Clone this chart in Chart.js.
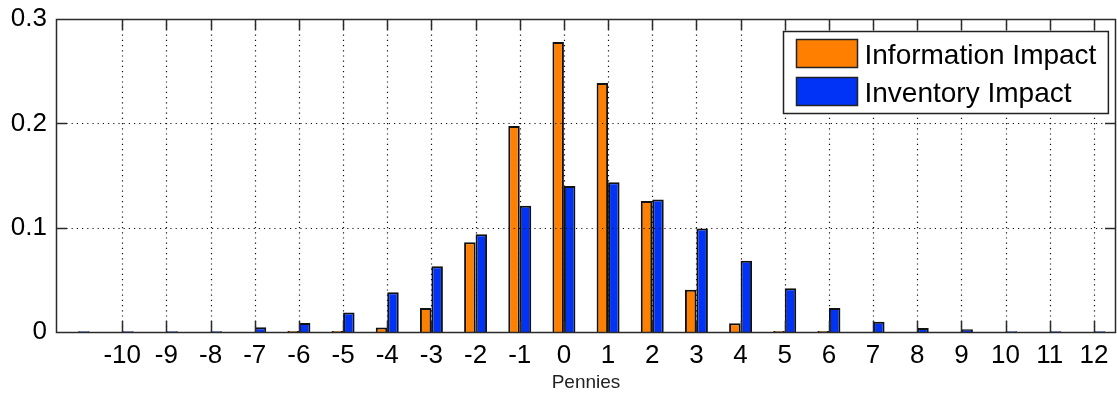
<!DOCTYPE html>
<html>
<head>
<meta charset="utf-8">
<script src="https://cdn.jsdelivr.net/npm/chart.js@4.4.0/dist/chart.umd.min.js"></script>
<style>
  html, body { margin: 0; padding: 0; background: #fff; }
  #wrap { width: 1117px; height: 394px; }
</style>
</head>
<body>
<div id="wrap"><canvas id="impactChart"></canvas></div>
<script>
// categories (pennies) and the ones that get a tick label
const pennies = ['-11', '-10', '-9', '-8', '-7', '-6', '-5', '-4', '-3', '-2', '-1', '0',
  '1', '2', '3', '4', '5', '6', '7', '8', '9', '10', '11', '12'];
const shownTicks = ['-10', '-9', '-8', '-7', '-6', '-5', '-4', '-3', '-2', '-1', '0',
  '1', '2', '3', '4', '5', '6', '7', '8', '9', '10', '11', '12'];

const informationImpact = [0, 0, 0, 0, 0, 0.001, 0.001, 0.0042, 0.023, 0.086, 0.1975, 0.278,
  0.2386, 0.1255, 0.0405, 0.0084, 0.001, 0.001, 0, 0, 0, 0, 0, 0];
const inventoryImpact = [0.0008, 0.0008, 0.0008, 0.0008, 0.0045, 0.0087, 0.0186, 0.038, 0.063, 0.0937, 0.121, 0.14,
  0.1435, 0.127, 0.0992, 0.0684, 0.042, 0.023, 0.0099, 0.0039, 0.0026, 0.0008, 0.0008, 0.0008];

const gridValues = [0.1, 0.2];

const fontFamily = "'Liberation Sans', Arial, sans-serif";

// dotted grid on top of the bars, inward ticks and the full box
const axesFrame = {
  id: 'axesFrame',
  afterDatasetsDraw(chart) {
    const { ctx, chartArea: a, scales: { x, y } } = chart;
    const xs = [];
    pennies.forEach((p, i) => {
      if (shownTicks.includes(p)) xs.push(Math.round(x.getPixelForValue(i)) + 0.5);
    });
    const ys = gridValues.map(v => Math.round(y.getPixelForValue(v)) + 0.5);

    ctx.save();
    ctx.strokeStyle = '#111';
    ctx.lineWidth = 1.2;
    ctx.setLineDash([1.2, 4]);
    ctx.beginPath();
    xs.forEach(px => { ctx.moveTo(px, a.top); ctx.lineTo(px, a.bottom); });
    ys.forEach(py => { ctx.moveTo(a.left, py); ctx.lineTo(a.right, py); });
    ctx.stroke();

    ctx.setLineDash([]);
    ctx.lineWidth = 1.5;
    ctx.strokeStyle = '#2a2a2a';
    ctx.beginPath();
    xs.forEach(px => {
      ctx.moveTo(px, a.bottom); ctx.lineTo(px, a.bottom - 11);
      ctx.moveTo(px, a.top); ctx.lineTo(px, a.top + 11);
    });
    ys.forEach(py => {
      ctx.moveTo(a.left, py); ctx.lineTo(a.left + 11, py);
      ctx.moveTo(a.right, py); ctx.lineTo(a.right - 11, py);
    });
    ctx.stroke();
    ctx.strokeRect(Math.round(a.left) + 0.5, Math.round(a.top) + 0.5,
      Math.round(a.right - a.left) - 1, Math.round(a.bottom - a.top));
    ctx.restore();
  }
};

// legend box inside the top right corner
const boxLegend = {
  id: 'boxLegend',
  afterDraw(chart) {
    const { ctx, chartArea: a } = chart;
    const sets = chart.data.datasets;
    ctx.save();
    ctx.font = '28px ' + fontFamily;
    const textW = Math.max(...sets.map(d => ctx.measureText(d.label).width));
    const swW = 61, swH = 28, rowH = 38;
    const w = 13 + swW + 7 + textW + 12;
    const h = 8 + rowH * (sets.length - 1) + swH + 8;
    const left = Math.round(a.right - 8 - w) + 0.5;
    const top = Math.round(a.top + 12) + 0.5;

    ctx.fillStyle = '#fff';
    ctx.fillRect(left, top, w, h);
    ctx.strokeStyle = '#222';
    ctx.lineWidth = 1.5;
    ctx.strokeRect(left, top, w, h);

    sets.forEach((d, i) => {
      const sy = top + 8 + i * rowH;
      ctx.fillStyle = d.backgroundColor;
      ctx.fillRect(left + 13, sy, swW, swH);
      ctx.lineWidth = 1.5;
      ctx.strokeStyle = '#222';
      ctx.strokeRect(left + 13, sy, swW, swH);
      ctx.fillStyle = '#000';
      ctx.textBaseline = 'alphabetic';
      ctx.fillText(d.label, left + 13 + swW + 7, sy + swH / 2 + 10);
    });
    ctx.restore();
  }
};

new Chart(document.getElementById('impactChart'), {
  type: 'bar',
  data: {
    labels: pennies,
    datasets: [
      {
        label: 'Information Impact',
        data: informationImpact,
        backgroundColor: '#ff8000',
        borderColor: '#111',
        borderWidth: 2
      },
      {
        label: 'Inventory Impact',
        data: inventoryImpact,
        backgroundColor: '#0033f5',
        borderColor: '#111',
        borderWidth: 2
      }
    ]
  },
  options: {
    responsive: true,
    maintainAspectRatio: false,
    animation: false,
    datasets: {
      bar: { categoryPercentage: 0.52, barPercentage: 1.0 }
    },
    layout: { padding: { top: 19, right: 1, left: 0, bottom: 0 } },
    plugins: {
      legend: { display: false },
      tooltip: { enabled: false }
    },
    scales: {
      x: {
        grid: { display: false, drawTicks: false },
        border: { display: false },
        ticks: {
          autoSkip: false,
          maxRotation: 0,
          padding: 8,
          color: '#000',
          font: { family: fontFamily, size: 26 },
          callback: (val, i) => shownTicks.includes(pennies[i]) ? pennies[i] : ''
        },
        title: {
          display: true,
          text: 'Pennies',
          color: '#222',
          font: { family: fontFamily, size: 19 },
          padding: { top: 0, bottom: 0 }
        },
        afterFit: scale => { scale.height = 62; }
      },
      y: {
        min: 0,
        max: 0.3,
        grid: { display: false, drawTicks: false },
        border: { display: false },
        ticks: {
          stepSize: 0.1,
          padding: 9,
          color: '#000',
          font: { family: fontFamily, size: 26 }
        },
        afterFit: scale => {
          scale.width = 56;
          scale.paddingTop = 0;
          scale.paddingBottom = 0;
        }
      }
    }
  },
  plugins: [axesFrame, boxLegend]
});
</script>
</body>
</html>
